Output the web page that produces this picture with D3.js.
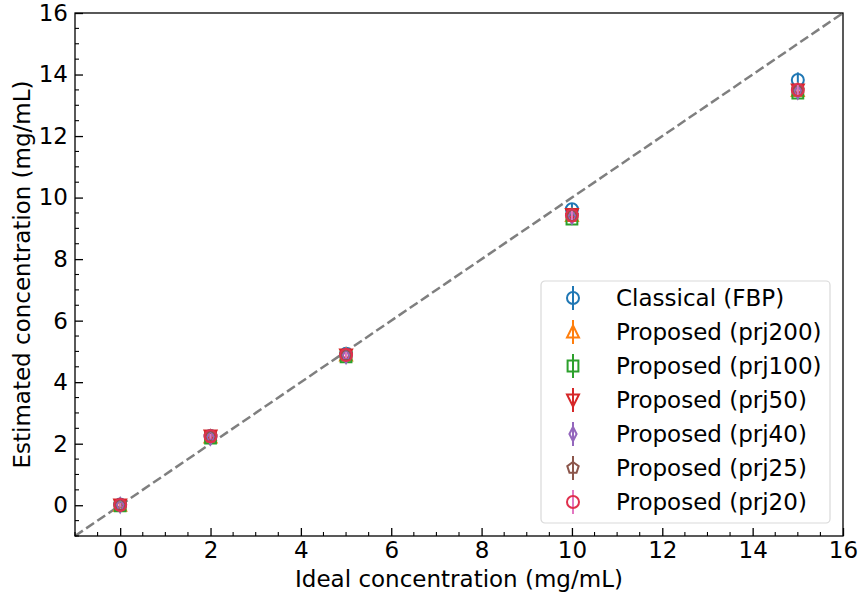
<!DOCTYPE html>
<html>
<head>
<meta charset="utf-8">
<script src="https://cdn.jsdelivr.net/npm/d3@7"></script>
<style>
  html, body { margin: 0; padding: 0; background: #fff; }
  svg { display: block; font-family: "DejaVu Sans", sans-serif; }
</style>
</head>
<body>
<svg id="chart" width="859" height="597"></svg>
<script>
// Ideal (prepared) concentrations, mg/mL
const idealConc = [0, 2, 5, 10, 15];

// Reconstruction methods shown in the legend
const seriesNames = [
  "Classical (FBP)",
  "Proposed (prj200)",
  "Proposed (prj100)",
  "Proposed (prj50)",
  "Proposed (prj40)",
  "Proposed (prj25)",
  "Proposed (prj20)"
];

// Estimated mean concentrations per method
const fbpMean    = [0.02, 2.25, 4.92, 9.62, 13.82];
const prj200Mean = [0.00, 2.22, 4.88, 9.42, 13.48];
const prj100Mean = [-0.02, 2.18, 4.82, 9.30, 13.40];
const prj50Mean  = [0.01, 2.25, 4.88, 9.45, 13.50];
const prj40Mean  = [0.00, 2.20, 4.85, 9.38, 13.45];
const prj25Mean  = [0.01, 2.23, 4.88, 9.42, 13.48];
const prj20Mean  = [0.01, 2.24, 4.88, 9.42, 13.50];

// Standard deviations per method
const fbpStd    = [0.08, 0.10, 0.12, 0.20, 0.25];
const prj200Std = [0.06, 0.08, 0.10, 0.15, 0.18];
const prj100Std = [0.06, 0.08, 0.10, 0.15, 0.18];
const prj50Std  = [0.06, 0.08, 0.10, 0.15, 0.18];
const prj40Std  = [0.06, 0.08, 0.10, 0.15, 0.18];
const prj25Std  = [0.06, 0.08, 0.10, 0.15, 0.18];
const prj20Std  = [0.06, 0.08, 0.10, 0.15, 0.18];

const xTicks = [0, 2, 4, 6, 8, 10, 12, 14, 16];
const yTicks = [0, 2, 4, 6, 8, 10, 12, 14, 16];

const means = [fbpMean, prj200Mean, prj100Mean, prj50Mean, prj40Mean, prj25Mean, prj20Mean];
const stds  = [fbpStd, prj200Std, prj100Std, prj50Std, prj40Std, prj25Std, prj20Std];
const markerColors = ["#1f77b4", "#ff7f0e", "#2ca02c", "#d62728", "#9467bd", "#8c564b", "#e0304e"];
const barColors    = ["#1f77b4", "#ff7f0e", "#2ca02c", "#d62728", "#9467bd", "#8c564b", "#e377c2"];
const markerShapes = ["circle", "triUp", "square", "triDown", "thinDiamond", "pentagon", "circle"];

const margin = { left: 75, right: 16, top: 13, bottom: 61 };
const W = 859, H = 597;
const FONT = 23;
const svg = d3.select("#chart");

const x = d3.scaleLinear().domain([-1, 16]).range([margin.left, W - margin.right]);
const y = d3.scaleLinear().domain([-1, 16]).range([H - margin.bottom, margin.top]);

// Marker path generator centred at origin
function markerPath(shape) {
  const r = 6;
  const p = d3.path();
  if (shape === "circle") {
    p.moveTo(r, 0); p.arc(0, 0, r, 0, 2 * Math.PI);
  } else if (shape === "triUp") {
    p.moveTo(0, -r - 0.5); p.lineTo(r, r - 0.5); p.lineTo(-r, r - 0.5); p.closePath();
  } else if (shape === "triDown") {
    p.moveTo(0, r + 0.5); p.lineTo(r, -r + 0.5); p.lineTo(-r, -r + 0.5); p.closePath();
  } else if (shape === "square") {
    const s = r * 0.9;
    p.moveTo(-s, -s); p.lineTo(s, -s); p.lineTo(s, s); p.lineTo(-s, s); p.closePath();
  } else if (shape === "thinDiamond") {
    p.moveTo(0, -r - 1); p.lineTo(r * 0.6, 0); p.lineTo(0, r + 1); p.lineTo(-r * 0.6, 0); p.closePath();
  } else if (shape === "pentagon") {
    for (let i = 0; i < 5; i++) {
      const a = -Math.PI / 2 + i * 2 * Math.PI / 5;
      const px = r * Math.cos(a), py = r * Math.sin(a);
      if (i === 0) p.moveTo(px, py); else p.lineTo(px, py);
    }
    p.closePath();
  }
  return p.toString();
}

// Identity reference line
svg.append("line")
  .attr("x1", x(-1)).attr("y1", y(-1))
  .attr("x2", x(16)).attr("y2", y(16))
  .attr("stroke", "#7f7f7f").attr("stroke-width", 2.5)
  .attr("stroke-dasharray", "9.5,4");

// Data with error bars
const plot = svg.append("g");
means.forEach((m, si) => {
  const g = plot.append("g");
  idealConc.forEach((cx, i) => {
    g.append("line")
      .attr("x1", x(cx)).attr("x2", x(cx))
      .attr("y1", y(m[i] - stds[si][i])).attr("y2", y(m[i] + stds[si][i]))
      .attr("stroke", barColors[si]).attr("stroke-width", 2);
    g.append("path")
      .attr("d", markerPath(markerShapes[si]))
      .attr("transform", `translate(${x(cx)},${y(m[i])})`)
      .attr("fill", "none")
      .attr("stroke", markerColors[si]).attr("stroke-width", 2);
  });
});

// Axes with inward ticks
const xAxis = d3.axisBottom(x).tickValues(xTicks).tickSize(-8).tickPadding(6).tickFormat(d3.format("d"));
const yAxis = d3.axisLeft(y).tickValues(yTicks).tickSize(-8).tickPadding(7).tickFormat(d3.format("d"));
const xMinor = d3.range(-1, 16.01, 0.5).filter(v => !xTicks.includes(v));
const yMinor = d3.range(-1, 16.01, 0.5).filter(v => !yTicks.includes(v));

const gx = svg.append("g").attr("transform", `translate(0,${y(-1)})`).call(xAxis);
const gy = svg.append("g").attr("transform", `translate(${x(-1)},0)`).call(yAxis);
[gx, gy].forEach(g => {
  g.select(".domain").remove();
  g.selectAll(".tick line").attr("stroke", "#000").attr("stroke-width", 1.3);
  g.selectAll(".tick text").attr("font-size", FONT).attr("fill", "#000")
    .attr("font-family", "DejaVu Sans, sans-serif");
});

svg.append("g").selectAll("line").data(xMinor).join("line")
  .attr("x1", d => x(d)).attr("x2", d => x(d))
  .attr("y1", y(-1)).attr("y2", y(-1) - 4)
  .attr("stroke", "#000").attr("stroke-width", 1.1);
svg.append("g").selectAll("line").data(yMinor).join("line")
  .attr("y1", d => y(d)).attr("y2", d => y(d))
  .attr("x1", x(-1)).attr("x2", x(-1) + 4)
  .attr("stroke", "#000").attr("stroke-width", 1.1);

// Frame
svg.append("rect")
  .attr("x", x(-1)).attr("y", y(16))
  .attr("width", x(16) - x(-1)).attr("height", y(-1) - y(16))
  .attr("fill", "none").attr("stroke", "#000").attr("stroke-width", 1.3);

// Axis titles
svg.append("text")
  .attr("x", (x(-1) + x(16)) / 2).attr("y", 587)
  .attr("text-anchor", "middle").attr("font-size", FONT)
  .text("Ideal concentration (mg/mL)");
svg.append("text")
  .attr("transform", `translate(30,${(y(-1) + y(16)) / 2}) rotate(-90)`)
  .attr("text-anchor", "middle").attr("font-size", FONT)
  .text("Estimated concentration (mg/mL)");

// Legend
const lg = svg.append("g").attr("transform", "translate(541,281)");
lg.append("rect")
  .attr("width", 289).attr("height", 242).attr("rx", 4)
  .attr("fill", "#fff").attr("fill-opacity", 0.8)
  .attr("stroke", "#d9d9d9").attr("stroke-width", 1.2);
seriesNames.forEach((name, si) => {
  const cy = 17 + si * 34;
  lg.append("line")
    .attr("x1", 32).attr("x2", 32).attr("y1", cy - 12).attr("y2", cy + 12)
    .attr("stroke", barColors[si]).attr("stroke-width", 2);
  lg.append("path")
    .attr("d", markerPath(markerShapes[si]))
    .attr("transform", `translate(32,${cy})`)
    .attr("fill", "none").attr("stroke", markerColors[si]).attr("stroke-width", 2);
  lg.append("text")
    .attr("x", 75).attr("y", cy).attr("dy", "0.35em")
    .attr("font-size", FONT).text(name);
});
</script>
</body>
</html>
